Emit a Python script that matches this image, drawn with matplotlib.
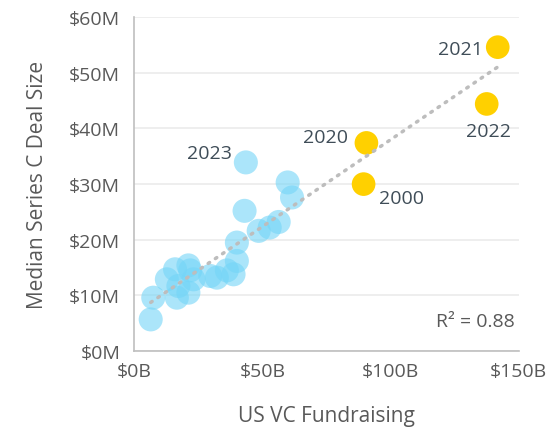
import matplotlib.pyplot as plt
import numpy as np

# US VC fundraising ($B) vs median Series C deal size ($M)
other_x = [6.5, 7.5, 12.8, 16.0, 16.7, 17.3, 21.2, 21.2, 21.9, 23.2,
           29.7, 32.3, 36.2, 38.8, 40.1, 40.1, 43.1, 43.6, 48.6, 52.9,
           56.4, 59.9, 61.6]
other_y = [5.7, 9.6, 12.9, 14.7, 9.6, 11.7, 10.5, 15.4, 14.5, 12.9,
           13.5, 13.2, 14.5, 13.8, 16.2, 19.5, 25.2, 33.9, 21.6, 22.2,
           23.2, 30.3, 27.6]

hi_years = ['2021', '2022', '2020', '2000']
hi_x = [141.8, 137.5, 90.6, 89.5]
hi_y = [54.6, 44.4, 37.4, 30.0]

label_2023 = ('2023', 43.6, 33.9)
r2_text = 'R² = 0.88'

plt.rcParams['font.family'] = ['Open Sans', 'DejaVu Sans']

fig = plt.figure(figsize=(5.52, 4.31), dpi=100)
ax = fig.add_axes([0.2428, 0.183, 0.697, 0.775])

ax.scatter(other_x, other_y, s=300, color='#74d5f7', alpha=0.6, edgecolors='none', zorder=3)
ax.scatter(hi_x, hi_y, s=290, color='#ffd000', edgecolors='none', zorder=4)

# linear trend over all points
all_x = np.array(other_x + hi_x)
all_y = np.array(other_y + hi_y)
k, b = np.polyfit(all_x, all_y, 1)
tx = np.array([all_x.min(), all_x.max()])
ax.plot(tx, k * tx + b, linestyle=(0, (0.5, 2.0)), dash_capstyle='round',
        color='#bdbdbd', lw=2.5, zorder=5)

lab_col = '#3f4d58'
fs = 14
offsets = {'2021': (-11, -1, 'right', 'center'),
           '2022': (1, -13, 'center', 'top'),
           '2020': (-13, 4, 'right', 'center'),
           '2000': (11, -10, 'left', 'center')}
for yr, x, y in zip(hi_years, hi_x, hi_y):
    dx, dy, ha, va = offsets[yr]
    ax.annotate(yr, (x, y), xytext=(dx, dy), textcoords='offset points',
                ha=ha, va=va, fontsize=fs, color=lab_col)
ax.annotate(label_2023[0], label_2023[1:], xytext=(-10, 7), textcoords='offset points',
            ha='right', va='center', fontsize=fs, color=lab_col)

ax.text(0.99, 0.09, r2_text, transform=ax.transAxes, ha='right', va='center',
        fontsize=fs, color='#595959')

ax.set_xlim(0, 150)
ax.set_ylim(0, 60)
ax.set_xticks([0, 50, 100, 150])
ax.set_xticklabels(['$0B', '$50B', '$100B', '$150B'])
ax.set_yticks(range(0, 61, 10))
ax.set_yticklabels(['$%dM' % v for v in range(0, 61, 10)])
ax.tick_params(length=0, labelsize=fs, labelcolor='#595959', pad=8)
ax.tick_params(axis='y', pad=10)

ax.grid(axis='y', color='#ebebeb', lw=1.2, zorder=0)
ax.set_axisbelow(True)
for s in ['top', 'right']:
    ax.spines[s].set_visible(False)
for s in ['left', 'bottom']:
    ax.spines[s].set_color('#bfbfbf')
    ax.spines[s].set_linewidth(1.2)

ax.set_xlabel('US VC Fundraising', fontsize=15, color='#595959', labelpad=18)
ax.set_ylabel('Median Series C Deal Size', fontsize=15, color='#595959', labelpad=15)

fig.savefig('out.png', dpi=100)
